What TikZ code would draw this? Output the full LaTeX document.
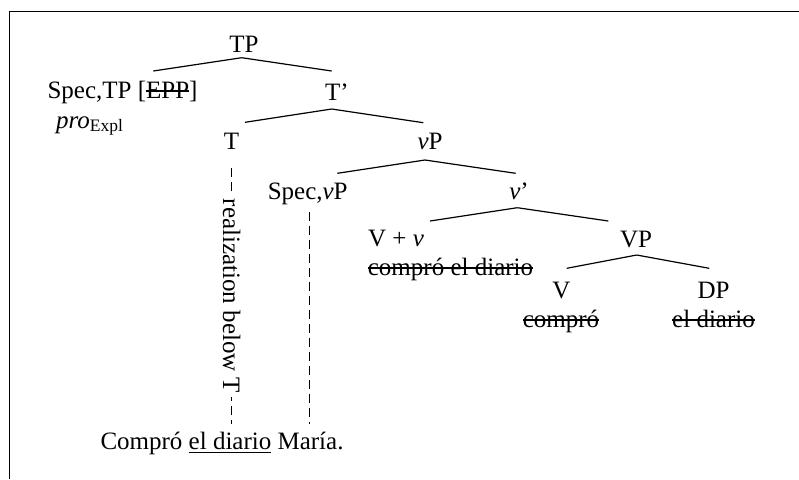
\documentclass[tikz,border=0pt]{standalone}
\usepackage{fontspec}
\setmainfont{Liberation Serif}
\usetikzlibrary{calc}
\newlength{\strikewd}
\newcommand{\struck}[1]{\settowidth{\strikewd}{#1}\rlap{\rule[0.26em]{\strikewd}{0.9pt}}#1}
\tikzset{
	cat/.style={anchor=base,inner sep=0pt,font=\fontsize{12.5}{15}\selectfont},
	branch/.style={line width=0.6pt},
	trace/.style={line width=0.5pt,dash pattern=on 4.5pt off 2.5pt},
	tracelabel/.style={fill=white,inner sep=2pt,font=\fontsize{12.5}{15}\selectfont},
	frame/.style={line width=0.5pt}
}

\begin{document}
\begin{tikzpicture}[x=0.5pt,y=-0.5pt]
			\useasboundingbox (0,0) rectangle (799,479);
			\draw[frame] (9.5,479) |- (799,11.5);
			
			% tree nodes, placed on their baselines
			\node[cat] (tp) at (244,52.5) {TP};
			\node[cat] (spectp) at (122.5,98) {Spec,TP [\struck{EPP}]};
			\node[cat] (pro) at (90,128) {\textit{pro}\textsubscript{Expl}};
			\node[cat] (tbar) at (337,100) {T'};
			\node[cat] (t) at (231.5,149) {T};
			\node[cat] (littlevp) at (430,149) {\textit{v}P};
			\node[cat] (specvp) at (307.7,199) {Spec,\textit{v}P};
			\node[cat] (vbar) at (519,199) {\textit{v}'};
			\node[cat] (vplusv) at (396,246.7) {V + \textit{v}};
			\node[cat] (vpluswords) at (450.5,275) {\struck{compró el diario}};
			\node[cat] (bigvp) at (636,247) {VP};
			\node[cat] (verb) at (561.5,298) {V};
			\node[cat] (dp) at (713.5,298) {DP};
			\node[cat] (verbwords) at (561,327) {\struck{compró}};
			\node[cat] (dpwords) at (713.5,327) {\struck{el diario}};
			\node[cat] (sent) at (222,449.5) {Compró \underline{el diario} María.};
			
			% branches
			\draw[branch] ($(tp.base)+(-2.3,5.2)$) -- ($(spectp.base)+(30.8,-27)$);
			\draw[branch] ($(tp.base)+(-2.3,5.2)$) -- ($(tbar.base)+(-5.3,-29)$);
			\draw[branch] ($(tbar.base)+(-5.3,9)$) -- ($(t.base)+(13.5,-26.7)$);
			\draw[branch] ($(tbar.base)+(-5.3,9)$) -- ($(littlevp.base)+(-6.7,-26.3)$);
			\draw[branch] ($(littlevp.base)+(-5,11)$) -- ($(specvp.base)+(29.6,-25.7)$);
			\draw[branch] ($(littlevp.base)+(-5,11)$) -- ($(vbar.base)+(-3.3,-25.7)$);
			\draw[branch] ($(vbar.base)+(-1.7,8.7)$) -- ($(vplusv.base)+(34,-25.7)$);
			\draw[branch] ($(vbar.base)+(-1.7,8.7)$) -- ($(bigvp.base)+(-27.7,-26)$);
			\draw[branch] ($(bigvp.base)+(0.7,8)$) -- ($(verb.base)+(5.2,-29.7)$);
			\draw[branch] ($(bigvp.base)+(0.7,8)$) -- ($(dp.base)+(-4.2,-29.7)$);
			
			% links down to the spelled-out sentence
			\draw[trace] ($(t.base)+(0.2,19)$) -- ($(t.base |- sent.base)+(0.2,-25.5)$)
				node[midway,tracelabel,rotate=-90] {realization below T};
			\draw[trace] ($(specvp.base)+(1.3,12.7)$) -- ($(specvp.base |- sent.base)+(1.3,-25.5)$);
		\end{tikzpicture}
\end{document}
